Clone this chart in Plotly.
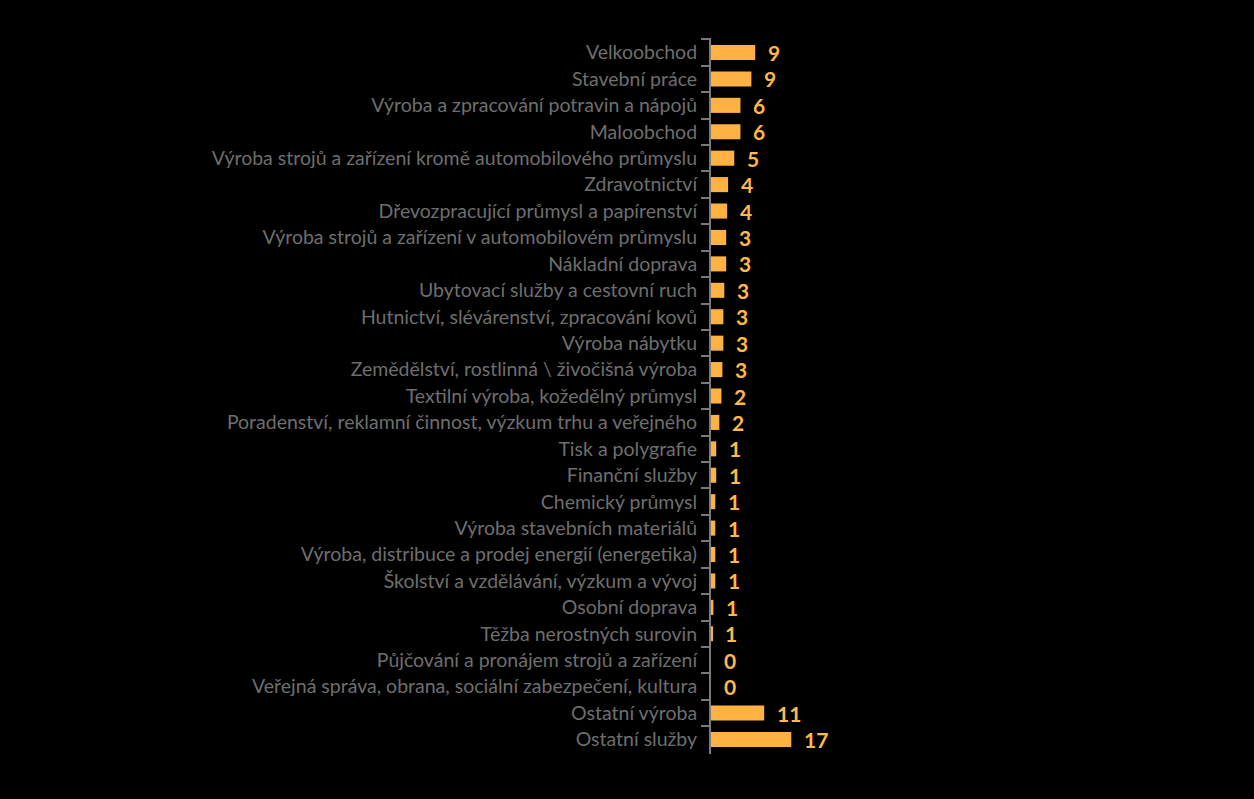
import plotly.graph_objects as go

categories = [
    "Velkoobchod",
    "Stavební práce",
    "Výroba a zpracování potravin a nápojů",
    "Maloobchod",
    "Výroba strojů a zařízení kromě automobilového průmyslu",
    "Zdravotnictví",
    "Dřevozpracující průmysl a papírenství",
    "Výroba strojů a zařízení v automobilovém průmyslu",
    "Nákladní doprava",
    "Ubytovací služby a cestovní ruch",
    "Hutnictví, slévárenství, zpracování kovů",
    "Výroba nábytku",
    "Zemědělství, rostlinná \\ živočišná výroba",
    "Textilní výroba, kožedělný průmysl",
    "Poradenství, reklamní činnost, výzkum trhu a veřejného",
    "Tisk a polygrafie",
    "Finanční služby",
    "Chemický průmysl",
    "Výroba stavebních materiálů",
    "Výroba, distribuce a prodej energií (energetika)",
    "Školství a vzdělávání, výzkum a vývoj",
    "Osobní doprava",
    "Těžba nerostných surovin",
    "Půjčování a pronájem strojů a zařízení",
    "Veřejná správa, obrana, sociální zabezpečení, kultura",
    "Ostatní výroba",
    "Ostatní služby",
]
values = [9.3, 8.5, 6.2, 6.2, 4.9, 3.6, 3.4, 3.2, 3.2, 2.8, 2.6, 2.6, 2.4, 2.2, 1.75,
          1.1, 1.1, 0.9, 0.9, 0.9, 0.9, 0.5, 0.3, 0.0, 0.0, 11.2, 16.9]
labels = ["9", "9", "6", "6", "5", "4", "4", "3", "3", "3", "3", "3", "3", "2", "2",
          "1", "1", "1", "1", "1", "1", "1", "1", "0", "0", "11", "17"]

bar_color = "#FFB142"
label_color = "#FFB84A"
axis_color = "#7A7A7A"
text_color = "#6E6E6E"

fig = go.Figure()
fig.add_trace(go.Bar(
    x=values, y=categories, orientation="h",
    marker=dict(color=bar_color, line=dict(width=0)),
    hoverinfo="skip",
))

for c, v, t in zip(categories, values, labels):
    fig.add_annotation(
        x=v, y=c, text=t, showarrow=False, xanchor="left", yanchor="middle",
        xshift=11, yshift=0,
        font=dict(family="Lato", size=21, color=label_color, weight="bold"),
    )

plot_w = 1254 - 711 - 54
fig.update_layout(
    width=1254, height=799,
    paper_bgcolor="black", plot_bgcolor="black",
    margin=dict(l=711, r=54, t=38, b=45),
    bargap=0.43,
    showlegend=False,
    xaxis=dict(range=[0, plot_w / 4.75], visible=False, showgrid=False, zeroline=False),
    yaxis=dict(
        autorange="reversed",
        showline=True, linecolor=axis_color, linewidth=2,
        ticks="outside", tickson="boundaries", ticklen=8, tickwidth=2, tickcolor=axis_color,
        tickfont=dict(family="Lato", size=19.5, color=text_color),
        showgrid=False, zeroline=False,
        ticklabelstandoff=8,
    ),
)

fig.write_html(
    "out.html",
    config={"displayModeBar": False},
    post_script="document.body.style.margin='0';document.body.style.background='black';",
)
